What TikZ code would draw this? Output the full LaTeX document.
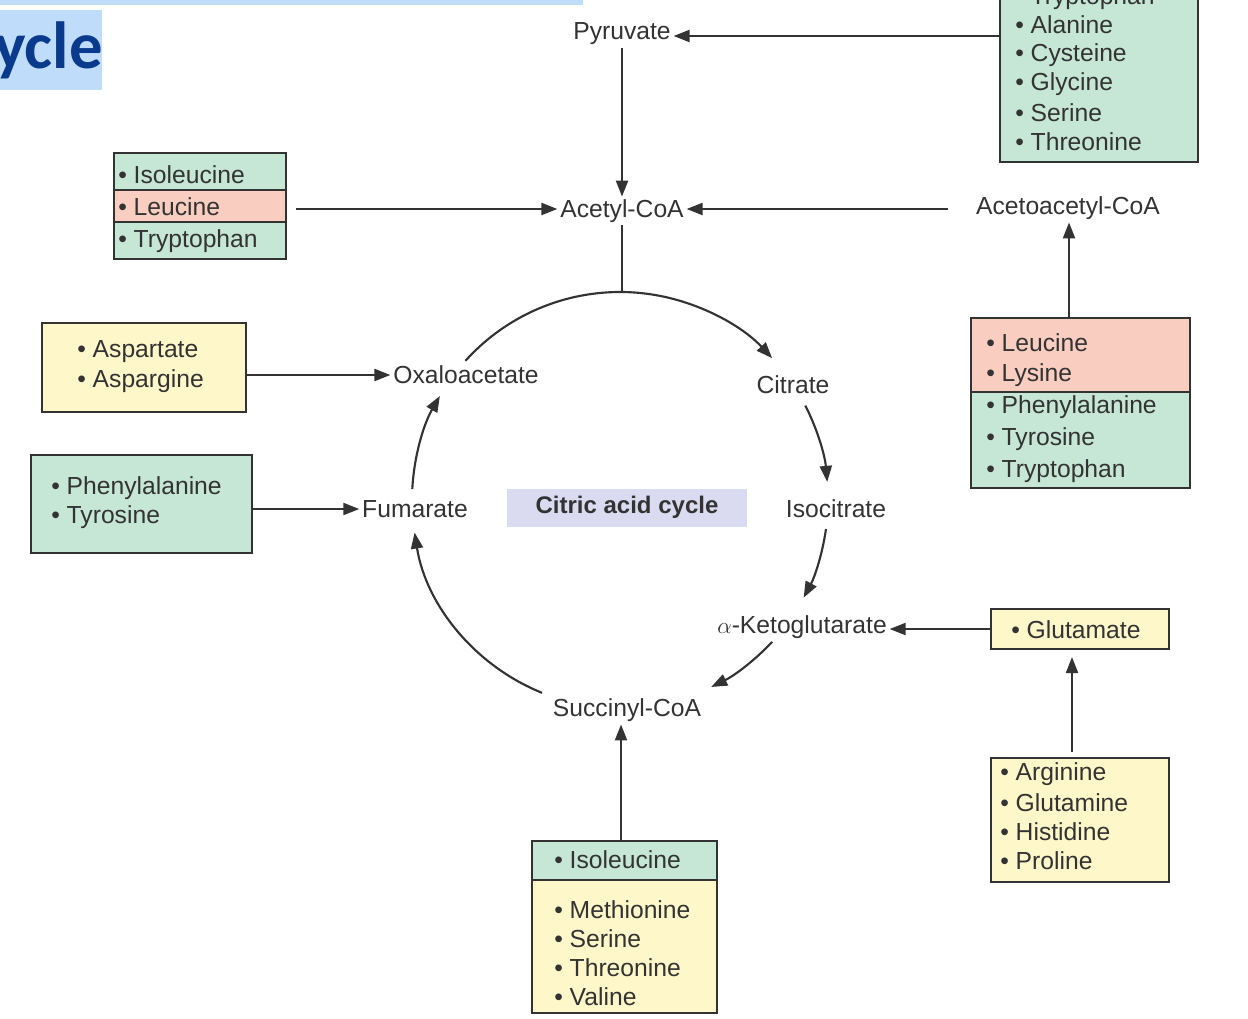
\documentclass[tikz,border=0pt]{standalone}
\usepackage{fontspec}
\setmainfont{Liberation Sans}
\newfontfamily\titlefont{Carlito}
\usetikzlibrary{arrows.meta,calc}
\definecolor{gbox}{HTML}{C6E6D6}
\definecolor{pbox}{HTML}{F9CDBF}
\definecolor{ybox}{HTML}{FDF7C9}
\definecolor{lav}{HTML}{DADAF0}
\definecolor{ink}{HTML}{333333}
\definecolor{hl}{HTML}{BFDCFB}
\definecolor{ttl}{HTML}{0A3A8C}
\tikzset{
 con/.style={draw=ink,line width=1.6pt,-{Triangle[length=12pt,width=9pt]}},
 plain/.style={draw=ink,line width=1.6pt},
 bx/.style={draw=ink,line width=1.6pt},
 lbl/.style={text=ink,font=\fontsize{18.5}{21}\selectfont,inner sep=2pt},
 itm/.style={text=ink,font=\fontsize{18.5}{21}\selectfont,anchor=west,inner sep=0pt},
}
\begin{document}
\begin{tikzpicture}[x=0.75pt,y=-0.75pt]
\useasboundingbox (0,0) rectangle (1248,1018);
\fill[hl] (0,0) rectangle (583,5);
\fill[hl] (0,10) rectangle (102,90);
\node[anchor=east,text=ttl,font=\titlefont\bfseries\fontsize{50}{52}\selectfont,inner sep=0pt] (ttl) at (103,50) {ycle};
\begin{scope}
\clip (0,0) rectangle (1248,1018);
\filldraw[fill=gbox,bx] (1000,-10) rectangle (1198,162);
\node[itm] (tr0) at (1015,-2) {• Tryptophan};
\end{scope}
\filldraw[fill=gbox,bx] (114,153) rectangle (286,190);
\filldraw[fill=pbox,bx] (114,190) rectangle (286,222);
\filldraw[fill=gbox,bx] (114,222) rectangle (286,259);
\filldraw[fill=pbox,bx] (971,318) rectangle (1190,392);
\filldraw[fill=gbox,bx] (971,392) rectangle (1190,488);
\filldraw[fill=ybox,bx] (42,323) rectangle (246,412);
\filldraw[fill=gbox,bx] (31,455) rectangle (252,553);
\filldraw[fill=ybox,bx] (991,609) rectangle (1169,649);
\filldraw[fill=ybox,bx] (991,758) rectangle (1169,882);
\filldraw[fill=gbox,bx] (532,841) rectangle (717,880);
\filldraw[fill=ybox,bx] (532,880) rectangle (717,1013);
\fill[lav] (507,489) rectangle (747,527);
\node[itm] (tr1) at (1015,25) {• Alanine};
\node[itm] (tr2) at (1015,55) {• Cysteine};
\node[itm] (tr3) at (1015,84) {• Glycine};
\node[itm] (tr4) at (1015,113) {• Serine};
\node[itm] (tr5) at (1015,142) {• Threonine};
\node[itm] (l1) at (118,175) {• Isoleucine};
\node[itm] (l2) at (118,207) {• Leucine};
\node[itm] (l3) at (118,241) {• Tryptophan};
\node[itm] (r1) at (986,343) {• Leucine};
\node[itm] (r2) at (986,375) {• Lysine};
\node[itm] (r3) at (986,407) {• Phenylalanine};
\node[itm] (r4) at (986,439) {• Tyrosine};
\node[itm] (r5) at (986,471) {• Tryptophan};
\node[itm] (a1) at (77,352) {• Aspartate};
\node[itm] (a2) at (77,381) {• Aspargine};
\node[itm] (p1) at (51,488) {• Phenylalanine};
\node[itm] (p2) at (51,517) {• Tyrosine};
\node[itm] (g1) at (1011,630) {• Glutamate};
\node[itm] (h1) at (1000,774) {• Arginine};
\node[itm] (h2) at (1000,803) {• Glutamine};
\node[itm] (h3) at (1000,832) {• Histidine};
\node[itm] (h4) at (1000,861) {• Proline};
\node[itm] (b1) at (554,860) {• Isoleucine};
\node[itm] (b2) at (554,910) {• Methionine};
\node[itm] (b3) at (554,939) {• Serine};
\node[itm] (b4) at (554,968) {• Threonine};
\node[itm] (b5) at (554,997) {• Valine};
\node[lbl] (pyr) at (622,34) {Pyruvate};
\node[lbl] (acc) at (622,211) {Acetyl-CoA};
\node[lbl] (aac) at (1068,208) {Acetoacetyl-CoA};
\node[lbl] (oxa) at (466,375) {Oxaloacetate};
\node[lbl] (fum) at (415,509) {Fumarate};
\node[lbl] (cit) at (793,385) {Citrate};
\node[lbl] (iso) at (836,509) {Isocitrate};
\node[lbl] (akg) at (802,627) {$\alpha$-Ketoglutarate};
\node[lbl] (suc) at (627,710) {Succinyl-CoA};
\node[lbl,font=\bfseries\fontsize{18}{21}\selectfont] (cac) at (627,507) {Citric acid cycle};
\coordinate (trL) at (1000,36);
\coordinate (lR) at (296,209);
\coordinate (aaL) at (948,209);
\coordinate (rT) at (1069,318);
\coordinate (aR) at (246,375);
\coordinate (pR) at (252,509);
\coordinate (gL) at (990,629);
\coordinate (hT) at (1072,752);
\coordinate (bT) at (621,840);
\coordinate (C) at (620,500);
\coordinate (top) at (622,292);
\draw[con] (trL) -- (trL -| pyr.east);
\draw[con] (pyr.south) -- (acc.north);
\draw[con] (lR) -- (lR -| acc.west);
\draw[con] (aaL) -- (aaL -| acc.east);
\draw[con] (rT) -- (rT |- aac.south);
\draw[con] (aR) -- (aR -| oxa.west);
\draw[con] (pR) -- (pR -| fum.west);
\draw[con] (gL) -- (gL -| akg.east);
\draw[con] (hT) -- (1072,657);
\draw[con] (bT) -- (bT |- suc.south);
\draw[plain] (acc.south) -- (top);
\draw[con] ($(C)+(-138:208)$) arc[start angle=-138,end angle=-43,radius=208];
\draw[con] ($(C)+(-27:208)$) arc[start angle=-27,end angle=-5,radius=208];
\draw[con] ($(C)+(8:208)$) arc[start angle=8,end angle=28,radius=208];
\draw[con] ($(C)+(43:208)$) arc[start angle=43,end angle=64,radius=208];
\draw[con] ($(C)+(112:208)$) arc[start angle=112,end angle=171,radius=208];
\draw[con] ($(C)+(-177:208)$) arc[start angle=-177,end angle=-150,radius=208];
\end{tikzpicture}
\end{document}
